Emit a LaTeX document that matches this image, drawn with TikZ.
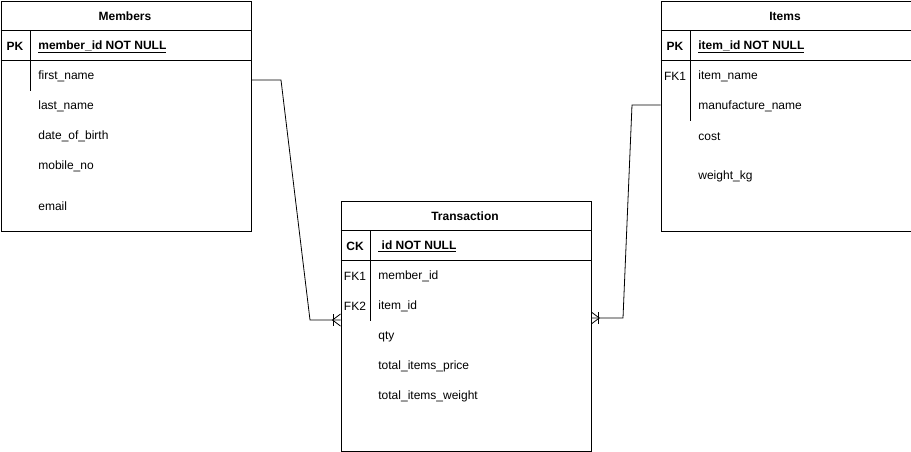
\documentclass[tikz,border=0pt]{standalone}
\usepackage{fontspec}
\setmainfont{Liberation Sans}
\usetikzlibrary{positioning}

\begin{document}
\begin{tikzpicture}[x=1pt,y=-1pt,line width=0.8pt,
  table/.style={draw,rectangle,anchor=north west,minimum width=250pt,minimum height=230pt,inner sep=0pt},
  head/.style={inner sep=0pt,yshift=-1.5pt,font=\bfseries\fontsize{12}{14}\selectfont},
  key/.style={inner sep=0pt,yshift=-1.5pt,font=\fontsize{12}{14}\selectfont},
  field/.style={anchor=west,inner sep=0pt,yshift=-1.5pt,font=\fontsize{12}{14}\selectfont}]
\useasboundingbox (0,0) rectangle (911,451);
% Members
\node (members) at (0.5,0.5) [table] {};
\node (mtitle) at (125,15) [head] {Members};
\draw ([yshift=-30pt]members.north west) -- ([yshift=-30pt]members.north east);
\draw ([yshift=-60pt]members.north west) -- ([yshift=-60pt]members.north east);
\draw ([shift={(30,30)}]members.north west) -- ++(0,60);
\node (mpk) at (15,45) [key,font=\bfseries\fontsize{12}{14}\selectfont] {PK};
\node (mid) at (38,45) [field,font=\bfseries\fontsize{12}{14}\selectfont] {\underline{member\_id NOT NULL}};
\foreach \t/\y [count=\i] in {first\_name/75,last\_name/105,date\_of\_birth/135,mobile\_no/165,email/205}
  \node (mf\i) at (38,\y) [field] {\t};
% Items
\node (items) at (660.5,0.5) [table] {};
\node (ititle) at (785,15) [head] {Items};
\draw ([yshift=-30pt]items.north west) -- ([yshift=-30pt]items.north east);
\draw ([yshift=-60pt]items.north west) -- ([yshift=-60pt]items.north east);
\draw ([shift={(30,30)}]items.north west) -- ++(0,90);
\node (ipk) at (675,45) [key,font=\bfseries\fontsize{12}{14}\selectfont] {PK};
\node (ifk) at (675,75) [key] {FK1};
\node (iid) at (698,45) [field,font=\bfseries\fontsize{12}{14}\selectfont] {\underline{item\_id NOT NULL}};
\foreach \t/\y [count=\i] in {item\_name/75,manufacture\_name/105,cost/135,weight\_kg/175}
  \node (if\i) at (698,\y) [field] {\t};
% Transaction
\node (trans) at (340.5,200.5) [table,minimum height=250pt] {};
\node (ttitle) at (465,215) [head] {Transaction};
\draw ([yshift=-30pt]trans.north west) -- ([yshift=-30pt]trans.north east);
\draw ([yshift=-60pt]trans.north west) -- ([yshift=-60pt]trans.north east);
\draw ([shift={(30,30)}]trans.north west) -- ++(0,90);
\node (tck) at (355,245) [key,font=\bfseries\fontsize{12}{14}\selectfont] {CK};
\node (tfk1) at (355,275) [key] {FK1};
\node (tfk2) at (355,305) [key] {FK2};
\node (tid) at (378,245) [field,font=\bfseries\fontsize{12}{14}\selectfont] {\underline{\ id NOT NULL}};
\foreach \t/\y [count=\i] in {member\_id/275,item\_id/305,qty/335,total\_items\_price/365,total\_items\_weight/395}
  \node (tf\i) at (378,\y) [field] {\t};
% relations
\coordinate (m1) at (281,80);
\coordinate (m2) at (310,320);
\coordinate (i1) at (632,105);
\coordinate (i2) at (623,318);
\draw (members.east |- m1) -- (m1) -- (m2) -- (trans.west |- m2);
\draw (items.west |- i1) -- (i1) -- (i2) -- (trans.east |- i2);
% crow's feet
\draw ([yshift=6pt]trans.west |- m2) -- ++(-8,6) -- ++(8,6);
\draw ([shift={(-7,-6)}]trans.west |- m2) -- ++(0,12);
\draw ([yshift=6pt]trans.east |- i2) -- ++(8,6) -- ++(-8,6);
\draw ([shift={(7,-6)}]trans.east |- i2) -- ++(0,12);
\end{tikzpicture}
\end{document}
